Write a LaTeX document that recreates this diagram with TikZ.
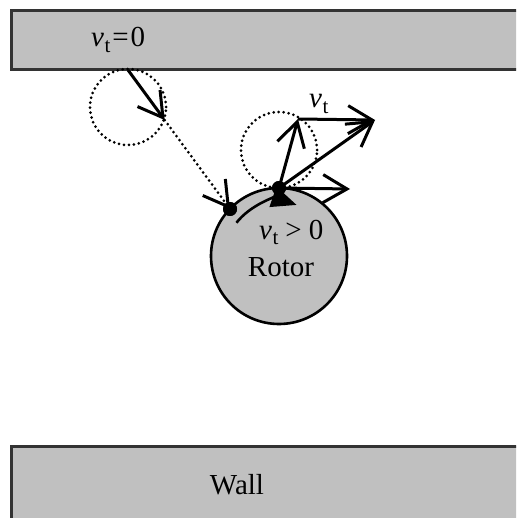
\documentclass[tikz,border=0pt]{standalone}
\usepackage{fontspec}
\setmainfont{Liberation Serif}
\usetikzlibrary{arrows.meta,calc}
\definecolor{wallgray}{HTML}{C0C0C0}
\definecolor{edgegray}{HTML}{333333}
\newcommand\velt{\textit{v}\kern0.5pt\raisebox{-5.5pt}{\fontsize{21}{21}\selectfont t}}
\begin{document}
\begin{tikzpicture}[x=1pt,y=-1pt,
  wallbox/.style={fill=wallgray,draw=edgegray,line width=3pt},
  lbl/.style={font=\fontsize{29}{32}\selectfont,inner sep=0pt},
  barb/.tip={Straight Barb[length=24pt,width=28pt,line width=3pt]},
  vec/.style={line width=3pt,-barb},
  dotline/.style={line width=3pt,line cap=round,dash pattern=on 0pt off 5pt},
  ghost/.style={circle,draw,dotline,minimum size=76pt,inner sep=0pt},
  contact/.style={circle,fill=black,minimum size=14pt,inner sep=0pt}]
\useasboundingbox (0,0) rectangle (516,518);
\clip (0,0) rectangle (516,518);
\fill[white] (0,0) rectangle (516,518);
% walls
\draw[wallbox] (11,11) rectangle (540,70);
\draw[wallbox] (11,446) rectangle (540,540);
\node[lbl,anchor=base west] (lv0) at (91,47) {\velt\kern2pt=\kern2pt0};
\node[lbl,anchor=base] (lwall) at (237,494) {Wall};
% rotor
\node[circle,minimum size=136pt,inner sep=0pt,fill=wallgray,draw=black,line width=2.6pt] (rotor) at (279,256) {};
\node[lbl,anchor=base] (lrotor) at (281,276) {Rotor};
\node[lbl,anchor=base west] (lvp) at (259,239) {\velt\kern7pt>\kern7pt0};
% ghost circles
\node[ghost] (c1) at (128,107) {};
\node[ghost] (c2) at (279,150) {};
% contact points
\node[contact] (d1) at (230,209) {};
\node[contact] (d2) at (279,188) {};
\coordinate (hit) at (128,70);
\coordinate (e1) at ($(hit)!0.36!(d1.center)$);
\coordinate (up) at (298,119);
\coordinate (sum) at (375,120);
\coordinate (hz) at (350,189);
% incoming ball path
\draw[vec] (hit) -- (e1);
\draw[dotline,-barb] (e1) -- (d1.center);
% rotation arrow
\draw[line width=2.6pt,-{Triangle[length=25pt,width=21pt]}] ($(rotor.center)+(-142:54)$) arc[start angle=-142,end angle=-71,radius=54];
% velocity vectors
\draw[vec] (d2.center) -- (up);
\draw[vec] (up) -- (sum);
\draw[vec] (d2.center) -- (sum);
\draw[vec] (d2.center) -- (hz);
\node[lbl,anchor=base west] (lvt) at (309,108) {\velt};
% redraw dots on top
\node[contact] at (d1) {};
\node[contact] at (d2) {};
\end{tikzpicture}
\end{document}
